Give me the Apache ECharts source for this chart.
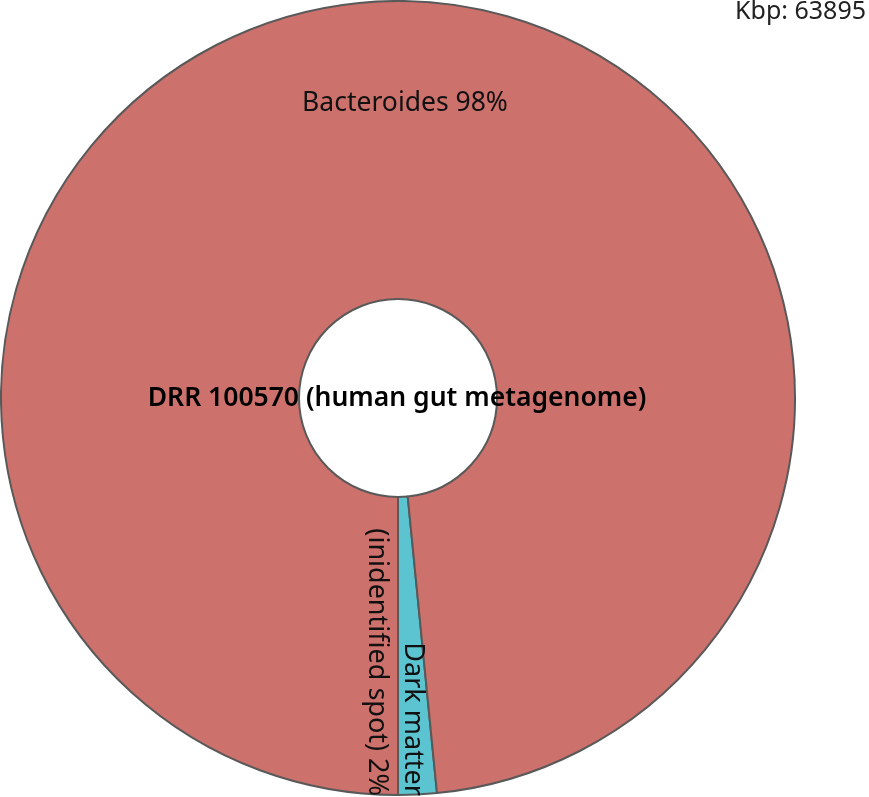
<!DOCTYPE html>
<html><head><meta charset="utf-8">
<script src="https://cdn.jsdelivr.net/npm/echarts@6/dist/echarts.min.js"></script>
<style>html,body{margin:0;padding:0;background:#fff}#c{width:869px;height:797px}</style>
</head><body><div id="c"></div>
<script>
const categories = ['Dark matter\n(inidentified spot)', 'Bacteroides'];
const valuesKbp = [1000, 62895];
const totalKbp = 63895;
const sampleName = 'DRR 100570 (human gut metagenome)';
const colors = ['#5CC4D0', '#CD716D'];

const chart = echarts.init(document.getElementById('c'), null, {renderer: 'canvas'});
const pct = v => Math.round(v / totalKbp * 100) + '%';
const font = '"Noto Sans", sans-serif';
chart.setOption({
  animation: false,
  backgroundColor: '#fff',
  series: [{
    type: 'pie',
    z: 1,
    center: [398, 398],
    radius: [99, 397],
    startAngle: -90,
    clockwise: false,
    label: {show: false},
    labelLine: {show: false},
    itemStyle: {borderColor: '#595959', borderWidth: 2},
    emphasis: {disabled: true},
    data: categories.map((c, i) => ({name: c, value: valuesKbp[i], itemStyle: {color: colors[i]}}))
  }],
  graphic: {
    elements: [
      {type: 'text', z: 100, right: 3, top: -1, style: {text: 'Kbp: ' + totalKbp, font: '25px ' + font, fill: '#222'}},
      {type: 'text', z: 100, x: 405, y: 103, style: {text: categories[1] + ' ' + pct(valuesKbp[1]), font: '26.5px ' + font, fill: '#111', textAlign: 'center', textVerticalAlign: 'middle'}},
      {type: 'text', z: 100, x: 397, y: 398, style: {text: sampleName, font: '600 26.5px ' + font, fill: '#000', textAlign: 'center', textVerticalAlign: 'middle'}},
      {type: 'text', z: 100, x: 395, y: 796, rotation: -Math.PI / 2, style: {text: categories[0] + ' ' + pct(valuesKbp[0]), font: '27px ' + font, lineHeight: 36, fill: '#111', textAlign: 'right', textVerticalAlign: 'middle'}}
    ]
  }
});
</script></body></html>
